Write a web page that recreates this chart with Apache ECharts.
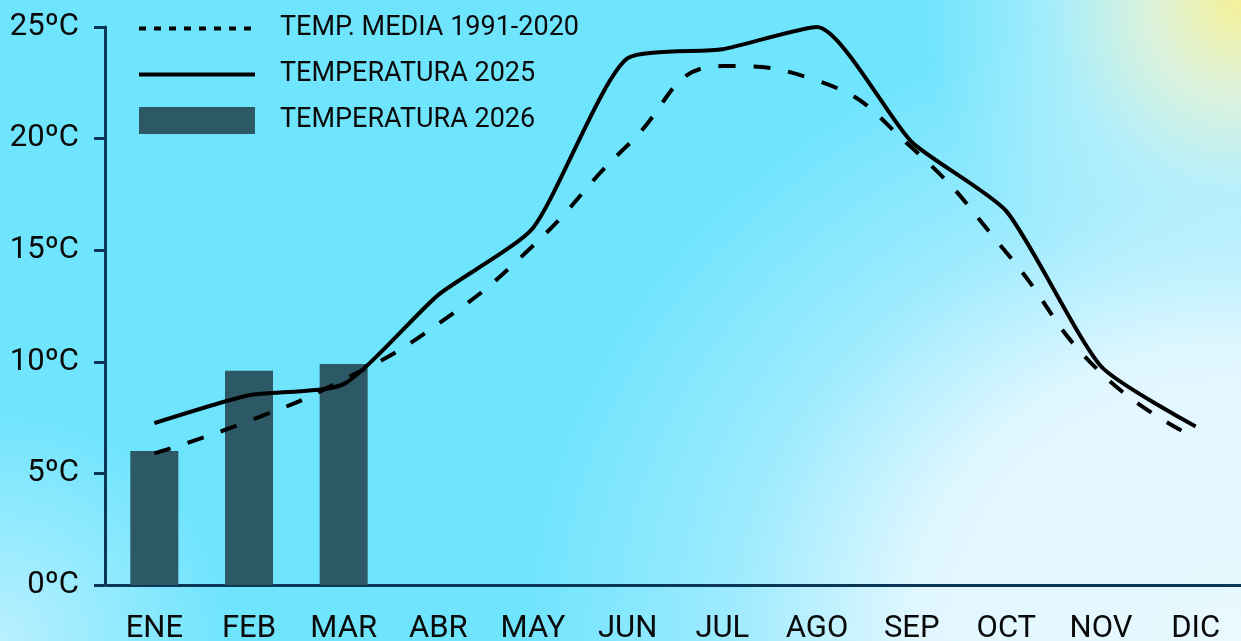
<!DOCTYPE html>
<html>
<head>
<meta charset="utf-8">
<script src="https://cdn.jsdelivr.net/npm/echarts@6/dist/echarts.min.js"></script>
<style>
html,body{margin:0;padding:0;}
#wrap{width:1241px;height:641px;position:relative;overflow:hidden;
background:
 radial-gradient(circle at 100% 0%, rgba(246,240,150,1) 0px, rgba(232,244,215,0.9) 90px, rgba(200,242,250,0.6) 190px, rgba(190,240,255,0) 320px),
 radial-gradient(ellipse 720px 640px at 100% 100%, rgba(232,249,255,1) 0%, rgba(225,247,255,1) 45%, rgba(180,238,255,0.7) 70%, rgba(110,228,253,0) 100%),
 radial-gradient(circle at 0% 100%, rgba(185,240,255,1) 0px, rgba(110,228,253,0) 230px),
 #6fe4fd;}
#chart{width:1241px;height:641px;}
</style>
</head>
<body>
<div id="wrap"><div id="chart"></div></div>
<script>
const months = ['ENE','FEB','MAR','ABR','MAY','JUN','JUL','AGO','SEP','OCT','NOV','DIC'];
const media19912020 = [5.9, 7.35, 9.2, 11.7, 15.2, 19.7, 23.25, 22.6, 19.6, 14.9, 9.5, 6.6];
const temp2025 = [7.25, 8.5, 9.0, 13.0, 16.0, 23.6, 24.0, 25.0, 19.85, 16.75, 9.8, 7.1];
const temp2026 = [6.0, 9.6, 9.9];
const yTicks = [0, 5, 10, 15, 20, 25];
const names = ['TEMP. MEDIA 1991-2020', 'TEMPERATURA 2025', 'TEMPERATURA 2026'];

const axisColor = '#0c3656';
const font = 'Roboto';
const chart = echarts.init(document.getElementById('chart'), null, {renderer: 'canvas'});
chart.setOption({
  backgroundColor: 'transparent',
  animation: false,
  textStyle: {fontFamily: font},
  grid: {left: 107, right: -2, top: 27, bottom: 56, containLabel: false, outerBoundsMode: 'none'},
  legend: {
    orient: 'vertical', left: 137, top: 15, padding: 0,
    itemWidth: 116, itemHeight: 27, itemGap: 19,
    textStyle: {fontFamily: font, fontSize: 27, color: '#0a0a0a', padding: [0, 0, 0, 20]},
    data: [
      {name: names[0], lineStyle: {type: [7, 8], width: 4, color: '#000'}, itemStyle: {opacity: 0}},
      {name: names[1], lineStyle: {width: 4, color: '#000'}, itemStyle: {opacity: 0}},
      {name: names[2], icon: 'rect'}
    ]
  },
  xAxis: {
    type: 'category', data: months, boundaryGap: true,
    axisLine: {lineStyle: {color: axisColor, width: 3}},
    axisTick: {show: false},
    axisLabel: {fontFamily: font, fontSize: 31, color: '#0a0a0a', margin: 29}
  },
  yAxis: {
    type: 'value', min: yTicks[0], max: yTicks[yTicks.length - 1], interval: 5, offset: 2,
    axisLine: {show: true, lineStyle: {color: axisColor, width: 3}},
    axisTick: {show: true, length: 11, lineStyle: {color: axisColor, width: 3}},
    splitLine: {show: false},
    axisLabel: {fontFamily: font, fontSize: 31, color: '#0a0a0a', margin: 26, formatter: '{value}ºC'}
  },
  series: [
    {
      name: names[2], type: 'bar', data: temp2026, barWidth: 48, z: 1,
      itemStyle: {color: '#2c5965'}
    },
    {
      name: names[0], type: 'line', data: media19912020, smooth: 0.5, symbol: 'none', z: 3,
      itemStyle: {color: '#000'},
      lineStyle: {color: '#000', width: 4, type: [17, 18]}
    },
    {
      name: names[1], type: 'line', data: temp2025, smooth: 0.2, symbol: 'none', z: 4,
      itemStyle: {color: '#000'},
      lineStyle: {color: '#000', width: 4}
    }
  ]
});
</script>
</body>
</html>
